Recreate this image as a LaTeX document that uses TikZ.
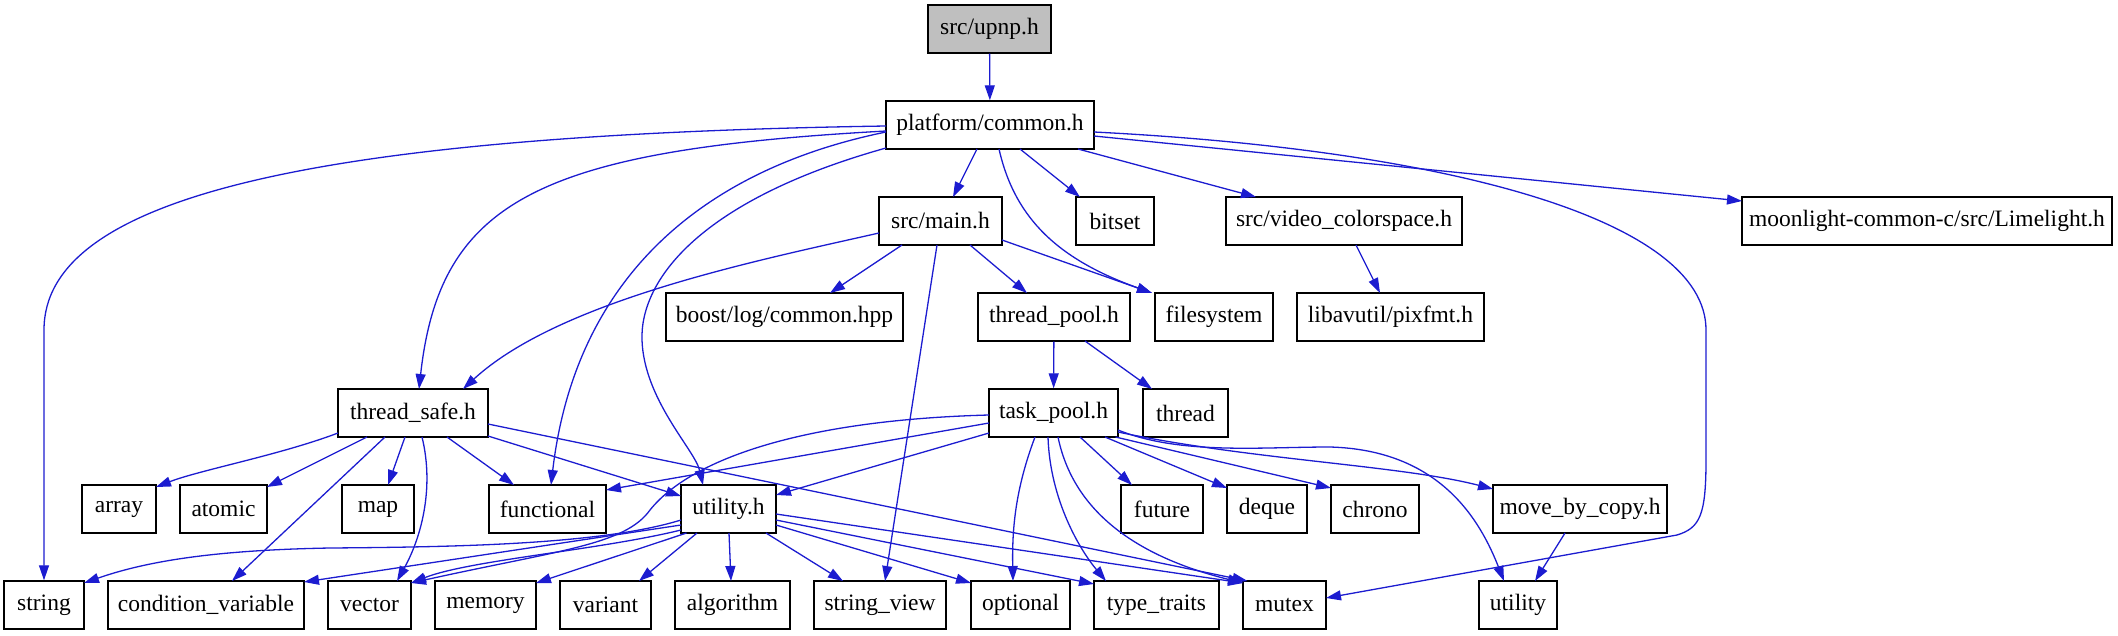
\documentclass[tikz,border=0pt]{standalone}
\usepackage{fontspec}
\setmainfont{Liberation Serif}
\usetikzlibrary{arrows.meta}
\definecolor{edgeblue}{RGB}{28,28,208}
\definecolor{rootgray}{RGB}{191,191,191}
\begin{document}
\begin{tikzpicture}[x=1pt,y=-1pt,
  box/.style={draw=black, line width=1.4pt, fill=white, minimum height=48pt, inner sep=0pt, font=\fontsize{23.5}{28}\selectfont},
  dep/.style={draw=edgeblue, line width=1.3pt, -{Triangle[length=15pt,width=10pt]}},
]
\useasboundingbox (0,0) rectangle (2118,635);
% row 0
\node[box, fill=rootgray, minimum width=123pt] (upnp) at (989.5,29) {src/upnp.h};
% row 1
\node[box, minimum width=208pt] (common) at (990,125) {platform/common.h};
% row 2
\node[box, minimum width=123pt] (main) at (940.5,221) {src/main.h};
\node[box, minimum width=78pt] (bitset) at (1115,221) {bitset};
\node[box, minimum width=236pt] (vcs) at (1344,221) {src/video\_colorspace.h};
\node[box, minimum width=370pt] (lime) at (1927,221) {moonlight-common-c/src/Limelight.h};
% row 3
\node[box, minimum width=237pt] (boost) at (784.5,317) {boost/log/common.hpp};
\node[box, minimum width=152pt] (tpool) at (1054,317) {thread\_pool.h};
\node[box, minimum width=118pt] (fs) at (1214,317) {filesystem};
\node[box, minimum width=187pt] (pixfmt) at (1390.5,317) {libavutil/pixfmt.h};
% row 4
\node[box, minimum width=150pt] (tsafe) at (413,413) {thread\_safe.h};
\node[box, minimum width=129pt] (taskp) at (1053.5,413) {task\_pool.h};
\node[box, minimum width=85pt] (thread) at (1185.5,413) {thread};
% row 5
\node[box, minimum width=74pt] (array) at (119,509) {array};
\node[box, minimum width=87pt] (atomic) at (223.5,509) {atomic};
\node[box, minimum width=72pt] (map) at (378,509) {map};
\node[box, minimum width=117pt] (functional) at (547.5,509) {functional};
\node[box, minimum width=95pt] (utilh) at (728.5,509) {utility.h};
\node[box, minimum width=82pt] (future) at (1162,509) {future};
\node[box, minimum width=80pt] (deque) at (1267,509) {deque};
\node[box, minimum width=88pt] (chrono) at (1375,509) {chrono};
\node[box, minimum width=174pt] (mbc) at (1580,509) {move\_by\_copy.h};
% row 6
\node[box, minimum width=80pt] (string) at (44,605) {string};
\node[box, minimum width=196pt] (cv) at (206,605) {condition\_variable};
\node[box, minimum width=83pt] (vector) at (369.5,605) {vector};
\node[box, minimum width=101pt] (memory) at (485.5,605) {memory};
\node[box, minimum width=91pt] (variant) at (605.5,605) {variant};
\node[box, minimum width=115pt] (algorithm) at (732.5,605) {algorithm};
\node[box, minimum width=132pt] (sview) at (880,605) {string\_view};
\node[box, minimum width=99pt] (optional) at (1020.5,605) {optional};
\node[box, minimum width=125pt] (ttraits) at (1156.5,605) {type\_traits};
\node[box, minimum width=83pt] (mutex) at (1284.5,605) {mutex};
\node[box, minimum width=78pt] (utility) at (1518,605) {utility};

% edges
\draw[dep] (upnp) -- (common);
\draw[dep] ([shift={(-13,24)}]common.center) -- ([shift={(12.5,-24)}]main.center);
\draw[dep] ([shift={(30,24)}]common.center) -- ([shift={(-35,-24)}]bitset.center);
\draw[dep] ([shift={(88,24)}]common.center) -- ([shift={(-88,-24)}]vcs.center);
\draw[dep] ([shift={(104,11)}]common.center) -- ([shift={(-185,-20)}]lime.center);
\draw[dep] ([shift={(104,7)}]common.center) .. controls (1450,150) and (1706,220) .. (1706,330) -- (1706,460) .. controls (1706,515) and (1700,528) .. (1677,535) -- ([shift={(41.5,-7)}]mutex.center);
\draw[dep] ([shift={(-104,1)}]common.center) .. controls (300,135) and (44,200) .. (44,330) -- (string.north);
\draw[dep] ([shift={(-104,6)}]common.center) .. controls (540,150) and (440,200) .. ([shift={(6,-24)}]tsafe.center);
\draw[dep] ([shift={(-104,7)}]common.center) .. controls (700,170) and (575,280) .. ([shift={(3.5,-24)}]functional.center);
\draw[dep] ([shift={(-104,23)}]common.center) .. controls (700,200) and (640,280) .. (642,340) .. controls (644,400) and (695,450) .. ([shift={(-25.5,-24)}]utilh.center);
\draw[dep] ([shift={(9,24)}]common.center) .. controls (1015,220) and (1060,260) .. ([shift={(-62,-24)}]fs.center);
\draw[dep] ([shift={(12,24)}]vcs.center) -- ([shift={(-10.5,-24)}]pixfmt.center);
\draw[dep] ([shift={(-38.5,24)}]main.center) -- ([shift={(45.5,-24)}]boost.center);
\draw[dep] ([shift={(29.5,24)}]main.center) -- ([shift={(-27,-24)}]tpool.center);
\draw[dep] ([shift={(-3.5,24)}]main.center) -- ([shift={(5,-24)}]sview.center);
\draw[dep] ([shift={(61.5,19)}]main.center) -- ([shift={(-62,-24)}]fs.center);
\draw[dep] ([shift={(-61.5,12)}]main.center) .. controls (760,260) and (560,300) .. ([shift={(50,-24)}]tsafe.center);
\draw[dep] (tpool) -- (taskp);
\draw[dep] ([shift={(31,24)}]tpool.center) -- ([shift={(-33.5,-24)}]thread.center);
% thread_safe.h
\draw[dep] ([shift={(-75,20)}]tsafe.center) .. controls (280,455) and (200,470) .. ([shift={(37,-22)}]array.center);
\draw[dep] ([shift={(-46,24)}]tsafe.center) -- ([shift={(43.5,-22)}]atomic.center);
\draw[dep] ([shift={(-28,24)}]tsafe.center) -- ([shift={(26,-24)}]cv.center);
\draw[dep] ([shift={(-8,24)}]tsafe.center) -- ([shift={(10,-24)}]map.center);
\draw[dep] ([shift={(9,24)}]tsafe.center) .. controls (435,490) and (420,540) .. ([shift={(27.5,-24)}]vector.center);
\draw[dep] ([shift={(34,24)}]tsafe.center) -- ([shift={(-33.5,-24)}]functional.center);
\draw[dep] ([shift={(75,23)}]tsafe.center) -- ([shift={(-47.5,-13)}]utilh.center);
\draw[dep] ([shift={(75,11)}]tsafe.center) -- ([shift={(-37,-24)}]mutex.center);
% task_pool.h
\draw[dep] ([shift={(-64.5,2)}]taskp.center) .. controls (800,420) and (690,460) .. (650,510) .. controls (625,545) and (560,550) .. ([shift={(41.5,-22)}]vector.center);
\draw[dep] ([shift={(-64.5,10)}]taskp.center) -- ([shift={(58.5,-19)}]functional.center);
\draw[dep] ([shift={(-64.5,20)}]taskp.center) -- ([shift={(47.5,-14)}]utilh.center);
\draw[dep] ([shift={(-18.5,24)}]taskp.center) .. controls (1015,490) and (1012,530) .. ([shift={(-7.5,-24)}]optional.center);
\draw[dep] ([shift={(-5.5,24)}]taskp.center) .. controls (1050,500) and (1080,550) .. ([shift={(-50.5,-24)}]ttraits.center);
\draw[dep] ([shift={(4.5,24)}]taskp.center) .. controls (1075,520) and (1150,560) .. ([shift={(-41.5,-22)}]mutex.center);
\draw[dep] ([shift={(26.5,24)}]taskp.center) -- ([shift={(-30,-24)}]future.center);
\draw[dep] ([shift={(51.5,24)}]taskp.center) -- ([shift={(-40,-21)}]deque.center);
\draw[dep] ([shift={(62,24)}]taskp.center) -- ([shift={(-44,-21)}]chrono.center);
\draw[dep] ([shift={(64.5,19)}]taskp.center) .. controls (1250,460) and (1400,465) .. ([shift={(-87,-20)}]mbc.center);
\draw[dep] ([shift={(64.5,17)}]taskp.center) .. controls (1180,455) and (1260,447) .. (1330,447) .. controls (1440,450) and (1480,520) .. ([shift={(-14,-24)}]utility.center);
\draw[dep] ([shift={(-15,24)}]mbc.center) -- ([shift={(17,-24)}]utility.center);
% utility.h
\draw[dep] ([shift={(-47.5,11)}]utilh.center) .. controls (600,545) and (450,547) .. (330,548) .. controls (220,550) and (150,560) .. ([shift={(40,-22)}]string.center);
\draw[dep] ([shift={(-47.5,16)}]utilh.center) -- ([shift={(98,-23)}]cv.center);
\draw[dep] ([shift={(-47.5,21)}]utilh.center) .. controls (600,550) and (470,560) .. ([shift={(41.5,-22)}]vector.center);
\draw[dep] ([shift={(-42,24)}]utilh.center) -- ([shift={(50.5,-22)}]memory.center);
\draw[dep] ([shift={(-31.5,24)}]utilh.center) -- ([shift={(33.5,-24)}]variant.center);
\draw[dep] ([shift={(0.5,24)}]utilh.center) -- ([shift={(-1.5,-24)}]algorithm.center);
\draw[dep] ([shift={(37.5,24)}]utilh.center) -- ([shift={(-37,-24)}]sview.center);
\draw[dep] ([shift={(47.5,16)}]utilh.center) -- ([shift={(-49.5,-22)}]optional.center);
\draw[dep] ([shift={(47.5,11)}]utilh.center) -- ([shift={(-62.5,-21)}]ttraits.center);
\draw[dep] ([shift={(47.5,5)}]utilh.center) -- ([shift={(-41.5,-22)}]mutex.center);
\end{tikzpicture}
\end{document}
